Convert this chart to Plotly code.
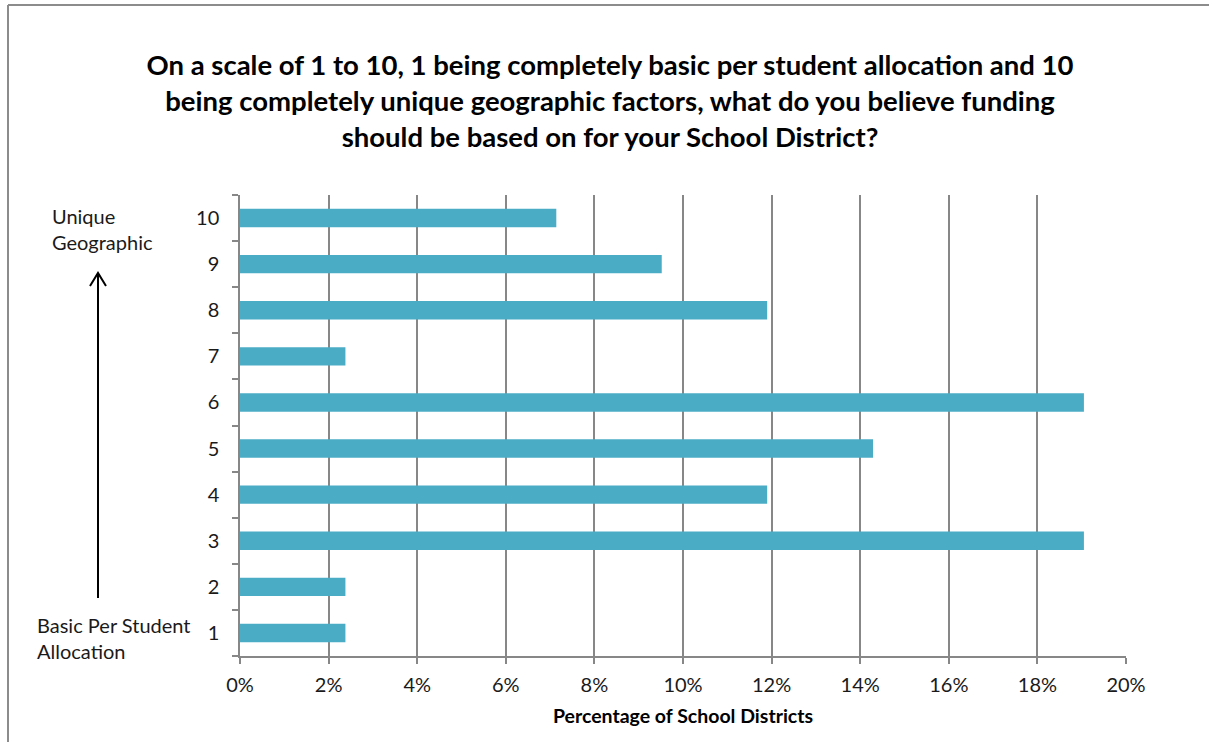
import plotly.graph_objects as go

# Survey results: share of school districts choosing each point on the scale
scale_points = ["1", "2", "3", "4", "5", "6", "7", "8", "9", "10"]
pct_districts = [2.38, 2.38, 19.05, 11.90, 14.29, 19.05, 2.38, 11.90, 9.52, 7.14]
x_ticks = [0, 2, 4, 6, 8, 10, 12, 14, 16, 18, 20]
x_tick_labels = [f"{v}%" for v in x_ticks]

title_text = ("On a scale of 1 to 10, 1 being completely basic per student allocation and 10<br>"
              "being completely unique geographic factors, what do you believe funding<br>"
              "should be based on for your School District?")

FONT = "Lato, Calibri, sans-serif"
GRID = "#878787"
BAR = "#4BACC6"
TXT = "#1a1a1a"

W, H = 1209, 742
L, R, T, B = 240, 1126, 195, 656


def px(x):
    return (x - L) / (R - L)


def py(y):
    return (B - y) / (B - T)


fig = go.Figure(
    go.Bar(
        x=pct_districts,
        y=scale_points,
        orientation="h",
        marker=dict(color=BAR, line=dict(width=0)),
        hoverinfo="x+y",
    )
)

fig.update_layout(
    width=W,
    height=H,
    margin=dict(l=L, r=W - R, t=T, b=H - B),
    paper_bgcolor="white",
    plot_bgcolor="white",
    bargap=0.6,
    showlegend=False,
    font=dict(family=FONT, color=TXT, size=20),
    title=dict(
        text=title_text,
        x=610 / W,
        xanchor="center",
        y=1 - 75 / H,
        yanchor="middle",
        font=dict(family=FONT, size=27.5, color="#000000", weight="bold"),
    ),
)

fig.update_xaxes(
    range=[0, 20],
    tickvals=x_ticks,
    ticktext=x_tick_labels,
    showgrid=True,
    gridcolor=GRID,
    gridwidth=1.5,
    zeroline=False,
    showline=True,
    linecolor=GRID,
    linewidth=1.5,
    ticks="outside",
    ticklen=6,
    tickcolor=GRID,
    tickwidth=1.5,
    ticklabelstandoff=4,
    tickfont=dict(size=20, color=TXT),
    title=dict(
        text="Percentage of School Districts",
        font=dict(size=19.5, color="#000000", weight="bold"),
        standoff=15,
    ),
    fixedrange=True,
)

fig.update_yaxes(
    type="category",
    categoryorder="array",
    categoryarray=scale_points,
    showgrid=False,
    zeroline=False,
    showline=True,
    linecolor=GRID,
    linewidth=1.5,
    ticks="outside",
    tickson="boundaries",
    ticklen=6,
    tickcolor=GRID,
    tickwidth=1.5,
    ticklabelstandoff=15,
    tickfont=dict(size=20, color=TXT),
    fixedrange=True,
)

# Frame around the chart (top and left edges)
fig.add_shape(type="line", xref="paper", yref="paper",
              x0=px(8), y0=py(5), x1=px(1215), y1=py(5),
              line=dict(color="#8c8c8c", width=2))
fig.add_shape(type="line", xref="paper", yref="paper",
              x0=px(8), y0=py(5), x1=px(8), y1=py(750),
              line=dict(color="#8c8c8c", width=2))

# Upward arrow from "Basic" to "Unique"
arrow_path = (
    f"M {px(98)},{py(598)} L {px(98)},{py(273)} "
    f"M {px(90)},{py(286)} L {px(98)},{py(273)} L {px(106)},{py(286)}"
)
fig.add_shape(type="path", xref="paper", yref="paper", path=arrow_path,
              line=dict(color="#000000", width=2))

fig.add_annotation(
    text="Unique<br>Geographic",
    xref="paper", yref="paper",
    x=px(50), y=py(202), xanchor="left", yanchor="top",
    align="left", showarrow=False,
    font=dict(family=FONT, size=20, color=TXT),
)
fig.add_annotation(
    text="Basic Per Student<br>Allocation",
    xref="paper", yref="paper",
    x=px(35), y=py(611), xanchor="left", yanchor="top",
    align="left", showarrow=False,
    font=dict(family=FONT, size=20, color=TXT),
)

fig.write_html("out.html")
